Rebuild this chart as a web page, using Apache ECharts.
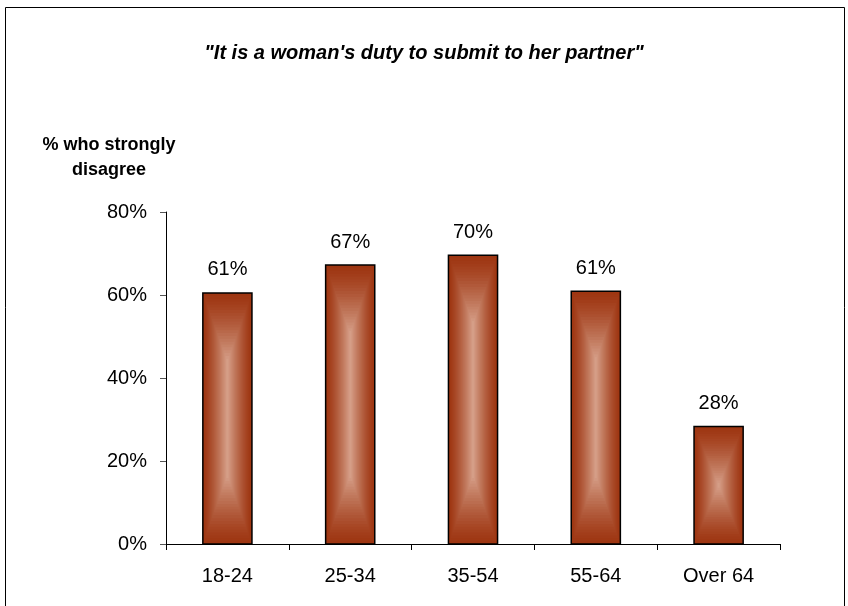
<!DOCTYPE html>
<html>
<head>
<meta charset="utf-8">
<script src="https://cdn.jsdelivr.net/npm/echarts@6/dist/echarts.min.js"></script>
<style>
  html, body { margin: 0; padding: 0; background: #fff; }
  #chart { width: 848px; height: 606px; }
</style>
</head>
<body>
<div id="chart"></div>
<script>
const categories = ['18-24', '25-34', '35-54', '55-64', 'Over 64']
const values = [60.5, 67.2, 69.6, 60.9, 28.3]
const tickLabels = ['0%', '20%', '40%', '60%', '80%']

const edgeColor = [158, 54, 18]
const centreColor = [216, 164, 142]
const fontFamily = '"Liberation Sans", Arial, sans-serif'

function mix(t) {
  const c = edgeColor.map((e, i) => Math.round(e + (centreColor[i] - e) * t))
  return 'rgb(' + c.join(',') + ')'
}

// bar drawn as nested rectangles: dark at the edges, light in the middle
function renderBar(params, api) {
  const idx = api.value(0)
  const top = api.coord([idx, api.value(1)])
  const base = api.coord([idx, 0])
  const band = api.size([1, 0])[0]
  const w = band * 0.4
  const h = base[1] - top[1]
  const x0 = top[0] - w / 2
  const y0 = top[1]
  const steps = 24
  const maxX = w / 2
  const maxY = Math.min(h / 2, maxX * 2.8)
  const children = []
  for (let i = 0; i < steps; i++) {
    const t = i / steps
    const dx = t * maxX
    const dy = t * maxY
    children.push({
      type: 'rect',
      shape: { x: x0 + dx, y: y0 + dy, width: w - 2 * dx, height: h - 2 * dy },
      style: { fill: mix(Math.pow(t, 1.3)) },
      silent: true
    })
  }
  children.push({
    type: 'rect',
    shape: { x: x0, y: y0, width: w, height: h },
    style: { fill: 'none', stroke: '#000', lineWidth: 1.5 }
  })
  children.push({
    type: 'text',
    style: {
      text: Math.round(api.value(1)) + '%',
      x: top[0],
      y: y0 - 13,
      align: 'center',
      verticalAlign: 'bottom',
      font: '20px ' + fontFamily,
      fill: '#000'
    }
  })
  return { type: 'group', children }
}

const chart = echarts.init(document.getElementById('chart'))

chart.setOption({
  animation: false,
  backgroundColor: '#fff',
  title: {
    text: '"It is a woman\'s duty to submit to her partner"',
    left: 'center',
    top: 38,
    textStyle: {
      fontFamily: fontFamily,
      fontSize: 20,
      fontWeight: 'bold',
      fontStyle: 'italic',
      color: '#000'
    }
  },
  graphic: [{
    type: 'rect',
    shape: { x: 5.5, y: 7.5, width: 839, height: 620 },
    style: { fill: 'none', stroke: '#000', lineWidth: 1 },
    silent: true
  }, {
    type: 'text',
    style: {
      text: '% who strongly\ndisagree',
      x: 109,
      y: 133,
      align: 'center',
      verticalAlign: 'top',
      font: 'bold 18px ' + fontFamily,
      lineHeight: 25,
      fill: '#000'
    }
  }],
  grid: {
    left: 166,
    right: 68,
    top: 212,
    bottom: 62
  },
  xAxis: {
    type: 'category',
    data: categories,
    axisLine: { lineStyle: { color: '#000', width: 1 } },
    axisTick: { show: true, length: 6, lineStyle: { color: '#000' } },
    axisLabel: {
      color: '#000',
      fontSize: 20,
      fontFamily: fontFamily,
      margin: 22
    }
  },
  yAxis: {
    type: 'value',
    min: 0,
    max: 80,
    interval: 20,
    splitLine: { show: false },
    axisLine: { show: true, lineStyle: { color: '#000', width: 1 } },
    axisTick: { show: true, length: 6, lineStyle: { color: '#555' } },
    axisLabel: {
      color: '#000',
      fontSize: 20,
      fontFamily: fontFamily,
      margin: 19,
      formatter: function(v) { return tickLabels[v / 20] }
    }
  },
  series: [{
    type: 'custom',
    renderItem: renderBar,
    encode: { x: 0, y: 1 },
    data: values.map((v, i) => [i, v])
  }]
})
</script>
</body>
</html>
